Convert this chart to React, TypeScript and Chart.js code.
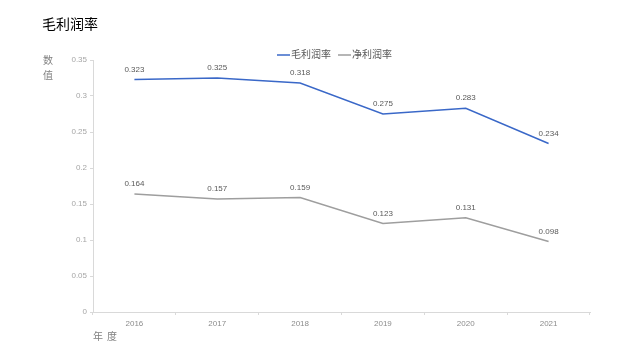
import React, { useEffect, useRef } from "react";
import { Chart, registerables } from "chart.js";

Chart.register(...registerables);

const years = ["2016", "2017", "2018", "2019", "2020", "2021"];
const grossMargin = [0.323, 0.325, 0.318, 0.275, 0.283, 0.234];
const netMargin = [0.164, 0.157, 0.159, 0.123, 0.131, 0.098];
const seriesNames = ["毛利润率", "净利润率"];
const seriesColors = ["#3a68c8", "#9e9e9e"];
const chartTitle = "毛利润率";
const yTitleChars = ["数", "值"];
const xTitleChars = ["年", "度"];

const FONT = "'Liberation Sans', 'Noto Sans CJK SC', sans-serif";

const decorPlugin = {
  id: "decor",
  afterDraw(chart: any) {
    const { ctx, chartArea } = chart;
    ctx.save();
    // title
    ctx.font = `14px ${FONT}`;
    ctx.fillStyle = "#000000";
    ctx.textAlign = "left";
    ctx.textBaseline = "middle";
    ctx.fillText(chartTitle, 42, 25);

    // legend
    ctx.font = `10px ${FONT}`;
    ctx.textBaseline = "middle";
    let x = 277;
    const ly = 55;
    chart.data.datasets.forEach((ds: any) => {
      ctx.strokeStyle = ds.borderColor;
      ctx.lineWidth = 1.5;
      ctx.beginPath();
      ctx.moveTo(x, ly);
      ctx.lineTo(x + 13, ly);
      ctx.stroke();
      ctx.fillStyle = "#595959";
      ctx.fillText(ds.label, x + 14, ly);
      x += 14 + ctx.measureText(ds.label).width + 7;
    });

    // y-axis title stacked vertically
    ctx.fillStyle = "#808080";
    ctx.textAlign = "center";
    yTitleChars.forEach((c, k) => {
      ctx.fillText(c, 48, chartArea.top + 1 + k * 15);
    });
    // x-axis title, spaced characters
    ctx.textAlign = "left";
    xTitleChars.forEach((c, k) => {
      ctx.fillText(c, chartArea.left + k * 14, 337);
    });
    ctx.restore();
  },
  afterDatasetsDraw(chart: any) {
    const { ctx } = chart;
    ctx.save();
    ctx.font = `8px ${FONT}`;
    ctx.fillStyle = "#595959";
    ctx.textAlign = "center";
    ctx.textBaseline = "bottom";
    chart.data.datasets.forEach((ds: any, i: number) => {
      const meta = chart.getDatasetMeta(i);
      meta.data.forEach((pt: any, j: number) => {
        ctx.fillText(String(ds.data[j]), pt.x, pt.y - 6);
      });
    });
    ctx.restore();
  },
};

export default function App() {
  const ref = useRef<HTMLCanvasElement>(null);
  useEffect(() => {
    const chart = new Chart(ref.current!, {
      type: "line",
      data: {
        labels: years,
        datasets: [
          {
            label: seriesNames[0],
            data: grossMargin,
            borderColor: seriesColors[0],
            backgroundColor: seriesColors[0],
            borderWidth: 1.5,
            pointRadius: 0,
            tension: 0,
          },
          {
            label: seriesNames[1],
            data: netMargin,
            borderColor: seriesColors[1],
            backgroundColor: seriesColors[1],
            borderWidth: 1.5,
            pointRadius: 0,
            tension: 0,
          },
        ],
      },
      options: {
        responsive: false,
        animation: false,
        layout: { padding: { top: 60, right: 50, bottom: 0, left: 0 } },
        plugins: {
          title: { display: false },
          legend: { display: false },
          tooltip: { enabled: false },
        },
        scales: {
          x: {
            offset: true,
            grid: {
              display: true,
              drawOnChartArea: false,
              drawTicks: true,
              tickLength: 3,
              color: "#d9d9d9",
              offset: true,
            },
            border: { color: "#d9d9d9" },
            ticks: { color: "#8c8c8c", font: { size: 8, family: FONT }, padding: 4 },
            afterFit(scale: any) {
              scale.height = 48;
            },
          },
          y: {
            min: 0,
            max: 0.35,
            grid: {
              display: true,
              drawOnChartArea: false,
              drawTicks: true,
              tickLength: 3,
              color: "#d9d9d9",
            },
            border: { color: "#d9d9d9" },
            ticks: {
              stepSize: 0.05,
              color: "#a6a6a6",
              font: { size: 8, family: FONT },
              padding: 3,
              callback: (v: any) => String(Math.round(Number(v) * 100) / 100),
            },
            afterFit(scale: any) {
              scale.width = 93;
            },
          },
        },
      },
      plugins: [decorPlugin],
    });
    return () => chart.destroy();
  }, []);
  return (
    <div style={{ position: "fixed", left: 0, top: 0, width: 640, height: 360, background: "#fff" }}>
      <canvas ref={ref} width={640} height={360} />
    </div>
  );
}
